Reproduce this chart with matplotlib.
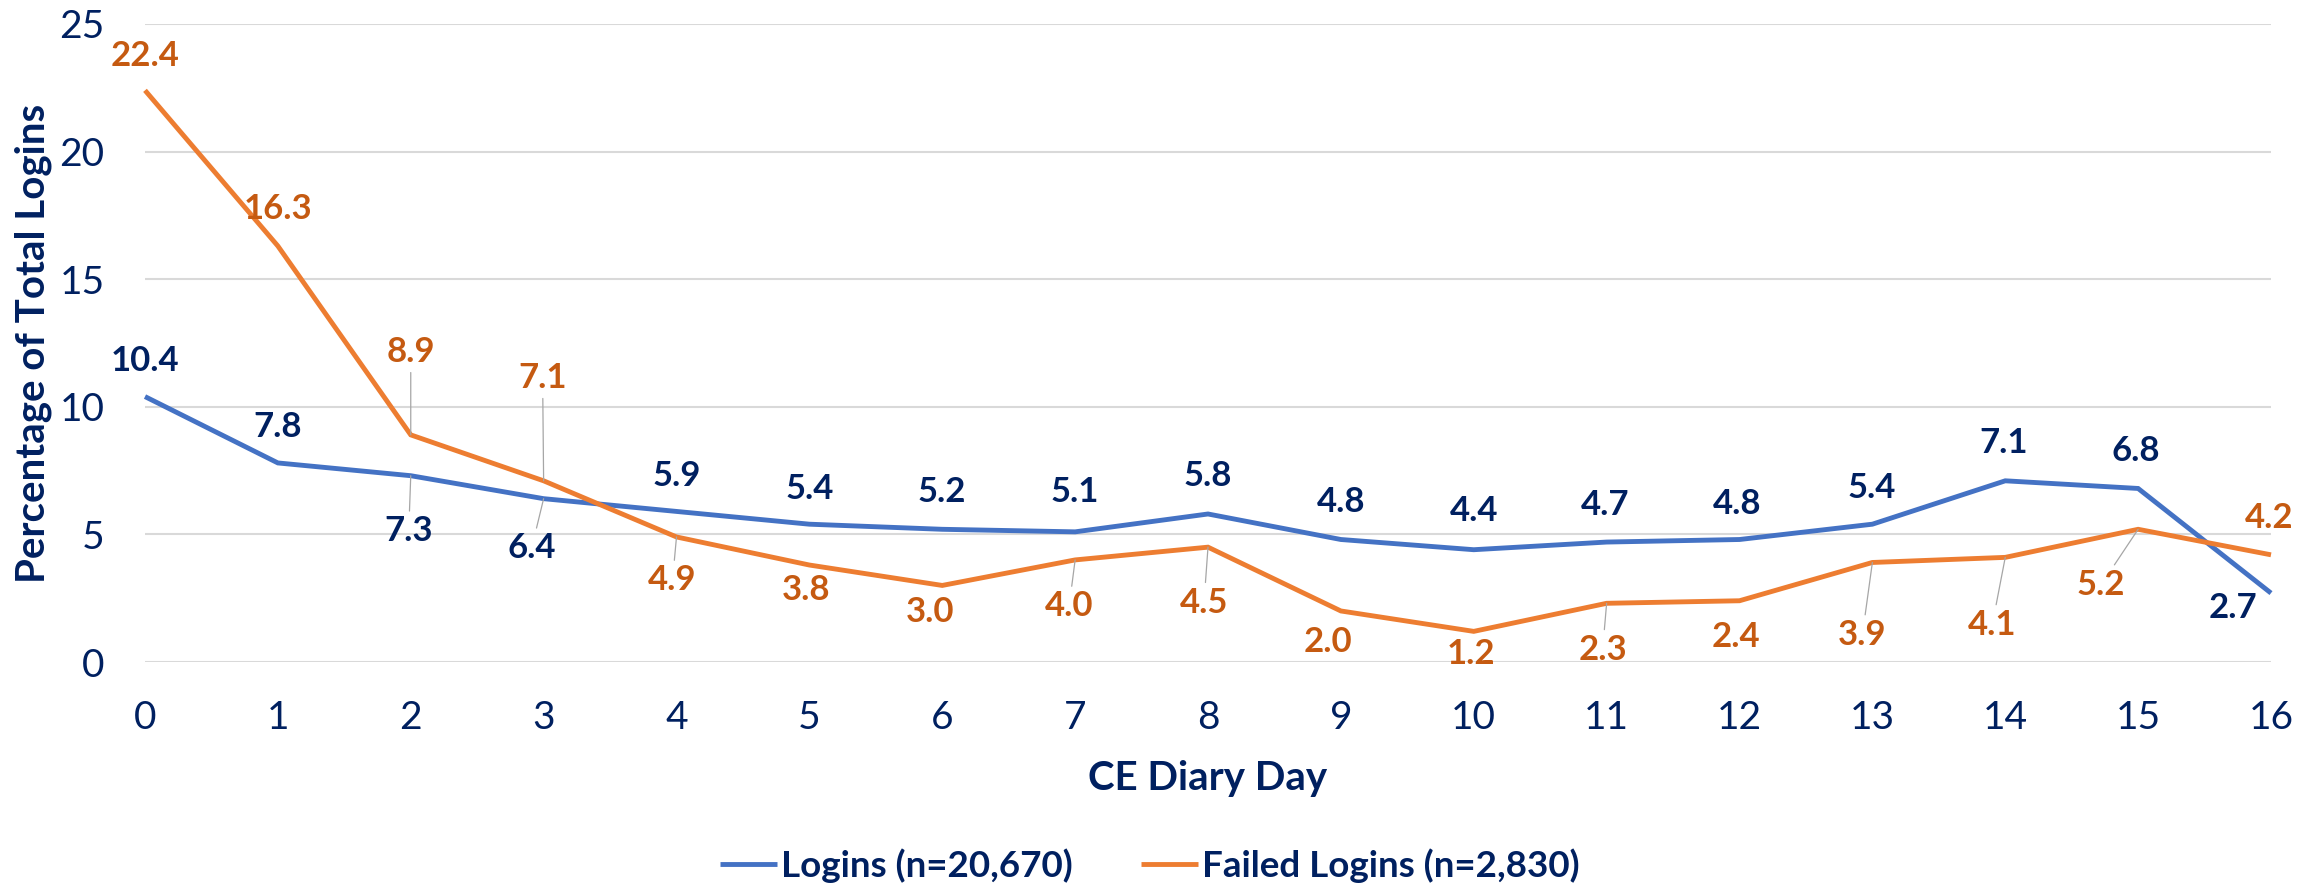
import matplotlib
matplotlib.use("Agg")
import matplotlib.pyplot as plt

# data
days = list(range(17))
logins = [10.4, 7.8, 7.3, 6.4, 5.9, 5.4, 5.2, 5.1, 5.8, 4.8, 4.4, 4.7, 4.8, 5.4, 7.1, 6.8, 2.7]
failed = [22.4, 16.3, 8.9, 7.1, 4.9, 3.8, 3.0, 4.0, 4.5, 2.0, 1.2, 2.3, 2.4, 3.9, 4.1, 5.2, 4.2]
series_names = ["Logins (n=20,670)", "Failed Logins (n=2,830)"]
y_ticks = [0, 5, 10, 15, 20, 25]

# data label placement: (dx px, dy px, leader line?)
login_label_pos = [
    (0, 38, False), (0, 38, False), (-2, -53, True), (-12, -47, True),
    (0, 38, False), (0, 38, False), (0, 40, False), (0, 42, False),
    (0, 40, False), (0, 40, False), (0, 41, False), (-2, 40, False),
    (-2, 38, False), (-1, 39, False), (-2, 40, False), (-2, 40, False),
    (-38, -12, False),
]
failed_label_pos = [
    (0, 37, False), (0, 40, False), (0, 85, True), (-1, 105, True),
    (-4, -41, True), (-3, -22, False), (-12, -24, False), (-6, -44, True),
    (-4, -53, True), (-13, -29, False), (-3, -20, False), (-4, -44, True),
    (-4, -34, False), (-10, -70, True), (-13, -65, True), (-37, -53, True),
    (-2, 39, False),
]

NAVY = "#002060"
BLUE = "#4472C4"
ORANGE = "#ED7D31"
ORANGE_TXT = "#C55A11"
FONT = "Lato"

plt.rcParams["font.family"] = FONT

W, H = 2320, 888
fig = plt.figure(figsize=(W / 100, H / 100), dpi=100)
x_left, x_right, y_top, y_bottom = 145, 2271, 24, 662
ax = fig.add_axes([x_left / W, 1 - y_bottom / H, (x_right - x_left) / W, (y_bottom - y_top) / H])


def _label_series(ax, xs, ys, offsets, color):
    for x, y, (dx, dy, leader) in zip(xs, ys, offsets):
        arrow = None
        if leader:
            arrow = dict(arrowstyle="-", color="#A6A6A6", lw=0.9, shrinkA=1, shrinkB=0)
        ax.annotate(
            f"{y:.1f}", xy=(x, y), xytext=(dx, dy - 12.5), textcoords="offset pixels",
            ha="center", va="baseline", fontsize=25, fontweight="bold", color=color,
            arrowprops=arrow, annotation_clip=False, zorder=5,
        )


l1, = ax.plot(days, logins, color=BLUE, lw=3.5, clip_on=False, zorder=3,
              solid_joinstyle="miter", solid_capstyle="butt")
l2, = ax.plot(days, failed, color=ORANGE, lw=3.5, clip_on=False, zorder=3,
              solid_joinstyle="miter", solid_capstyle="butt")

_label_series(ax, days, logins, login_label_pos, NAVY)
_label_series(ax, days, failed, failed_label_pos, ORANGE_TXT)

ax.set_xlim(0, 16)
ax.set_ylim(0, 25)
ax.set_xticks(days)
ax.set_yticks(y_ticks)
ax.tick_params(axis="both", length=0, labelsize=28, labelcolor=NAVY)
ax.tick_params(axis="y", pad=29)
ax.tick_params(axis="x", pad=27)
ax.yaxis.grid(True, color="#D9D9D9", lw=1.5)
ax.set_axisbelow(True)
for s in ax.spines.values():
    s.set_visible(False)

fig.text(33 / W, 1 - 343 / H, "Percentage of Total Logins", rotation=90,
         ha="center", va="center", fontsize=29, fontweight="bold", color=NAVY)
fig.text((x_left + x_right) / 2 / W, 1 - 790 / H, "CE Diary Day",
         ha="center", va="baseline", fontsize=29, fontweight="bold", color=NAVY)

leg = fig.legend(
    handles=[l1, l2], labels=series_names, loc="center",
    bbox_to_anchor=(1150 / W, 1 - 866 / H), ncol=2, frameon=False,
    prop=dict(family=FONT, weight="bold", size=26.5),
    handlelength=1.55, handletextpad=0.11, columnspacing=1.85,
    borderpad=0, borderaxespad=0,
)
for t in leg.get_texts():
    t.set_color(NAVY)

fig.savefig("out.png", dpi=100, facecolor="white")
